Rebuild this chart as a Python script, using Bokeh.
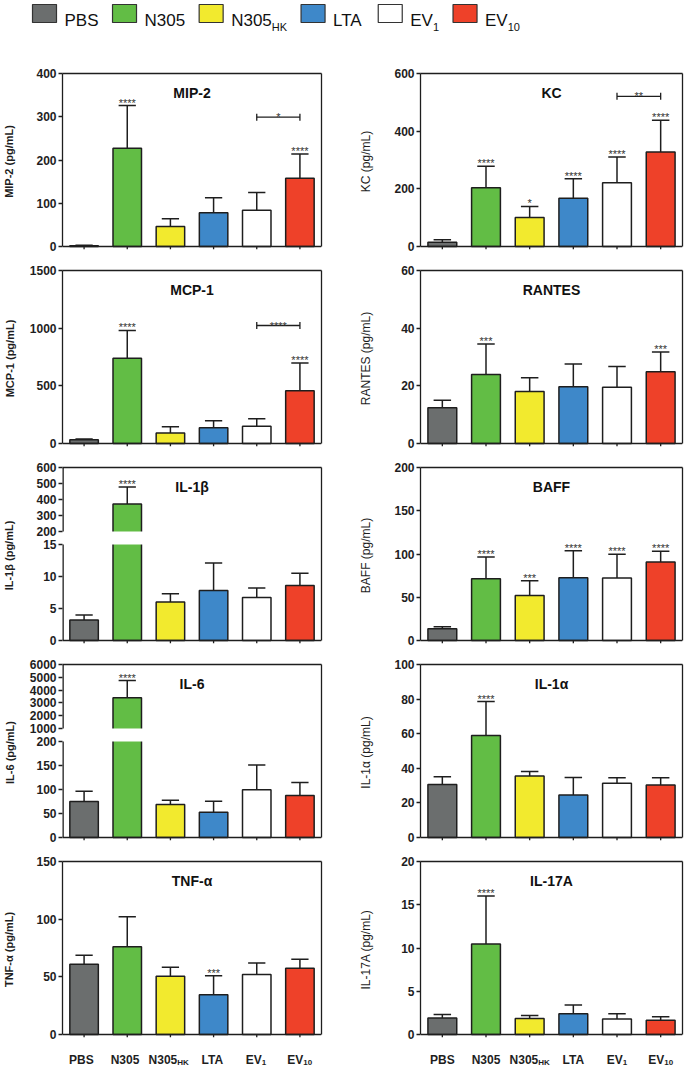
import math
from bokeh.plotting import figure
from bokeh.models import Range1d, LinearAxis, FixedTicker, Grid
from bokeh.layouts import column, row
from bokeh.embed import file_html
from bokeh.resources import INLINE
from bokeh.core.properties import value

FONT = "Liberation Sans"
INK = "#1e1e1e"

# ---------------- data ----------------
categories = ["PBS", "N305", "N305HK", "LTA", "EV1", "EV10"]
cat_main = ["PBS", "N305", "N305", "LTA", "EV", "EV"]
cat_sub = ["", "", "HK", "", "1", "10"]
bar_colors = ["#6b6e6e", "#62bd45", "#f2ea2e", "#3e88c9", "#ffffff", "#ee4129"]

mip2_mean = [2, 227, 46, 78, 84, 158]
mip2_sd = [1, 99, 18, 35, 41, 56]
mip2_stars = ["", "****", "", "", "", "****"]
mip2_ticks = [0, 100, 200, 300, 400]
mip2_bracket = ("EV1", "EV10", 299, "*")

kc_mean = [15, 204, 101, 167, 221, 328]
kc_sd = [8, 74, 38, 68, 89, 110]
kc_stars = ["", "****", "*", "****", "****", "****"]
kc_ticks = [0, 200, 400, 600]
kc_bracket = ("EV1", "EV10", 521, "**")

mcp1_mean = [32, 740, 92, 136, 150, 457]
mcp1_sd = [8, 240, 53, 61, 64, 242]
mcp1_stars = ["", "****", "", "", "", "****"]
mcp1_ticks = [0, 500, 1000, 1500]
mcp1_bracket = ("EV1", "EV10", 1023, "****")

rantes_mean = [12.4, 23.9, 18.0, 19.7, 19.5, 24.9]
rantes_sd = [2.6, 10.6, 4.8, 7.9, 7.2, 6.8]
rantes_stars = ["", "***", "", "", "", "***"]
rantes_ticks = [0, 20, 40, 60]

il1b_mean = [3.2, 372, 6.0, 7.8, 6.7, 8.6]
il1b_sd = [0.8, 106, 1.3, 4.3, 1.5, 1.9]
il1b_stars = ["", "****", "", "", "", ""]
il1b_ticks_low = [0, 5, 10, 15]
il1b_ticks_high = [200, 300, 400, 500, 600]

baff_mean = [13.5, 71.4, 52.1, 72.6, 72.2, 90.7]
baff_sd = [2.3, 25.1, 17.0, 31.3, 27.4, 12.4]
baff_stars = ["", "****", "***", "****", "****", "****"]
baff_ticks = [0, 50, 100, 150, 200]

il6_mean = [74.8, 3396, 68.5, 52.4, 99.3, 87.4]
il6_sd = [21.7, 1354, 9.1, 23.1, 51.7, 27.3]
il6_stars = ["", "****", "", "", "", ""]
il6_ticks_low = [0, 50, 100, 150, 200]
il6_ticks_high = [1000, 2000, 3000, 4000, 5000, 6000]

il1a_mean = [30.7, 58.9, 35.5, 24.5, 31.3, 30.3]
il1a_sd = [4.4, 19.7, 2.7, 10.2, 3.3, 4.3]
il1a_stars = ["", "****", "", "", "", ""]
il1a_ticks = [0, 20, 40, 60, 80, 100]

tnfa_mean = [60.9, 76.1, 50.6, 34.5, 52.0, 57.5]
tnfa_sd = [7.8, 25.9, 7.7, 16.4, 10.1, 7.7]
tnfa_stars = ["", "", "", "***", "", ""]
tnfa_ticks = [0, 50, 100, 150]

il17a_mean = [1.92, 10.46, 1.85, 2.4, 1.8, 1.65]
il17a_sd = [0.38, 5.54, 0.35, 1.0, 0.6, 0.4]
il17a_stars = ["", "****", "", "", "", ""]
il17a_ticks = [0, 5, 10, 15, 20]

left_panels = [
    dict(title="MIP-2", ylabel="MIP-2 (pg/mL)", mean=mip2_mean, sd=mip2_sd, stars=mip2_stars, ticks=mip2_ticks, bracket=mip2_bracket),
    dict(title="MCP-1", ylabel="MCP-1 (pg/mL)", mean=mcp1_mean, sd=mcp1_sd, stars=mcp1_stars, ticks=mcp1_ticks, bracket=mcp1_bracket),
    dict(title="IL-1β", ylabel="IL-1β (pg/mL)", mean=il1b_mean, sd=il1b_sd, stars=il1b_stars, ticks=il1b_ticks_low, ticks_high=il1b_ticks_high),
    dict(title="IL-6", ylabel="IL-6 (pg/mL)", mean=il6_mean, sd=il6_sd, stars=il6_stars, ticks=il6_ticks_low, ticks_high=il6_ticks_high),
    dict(title="TNF-α", ylabel="TNF-α (pg/mL)", mean=tnfa_mean, sd=tnfa_sd, stars=tnfa_stars, ticks=tnfa_ticks),
]
right_panels = [
    dict(title="KC", ylabel="KC (pg/mL)", mean=kc_mean, sd=kc_sd, stars=kc_stars, ticks=kc_ticks, bracket=kc_bracket),
    dict(title="RANTES", ylabel="RANTES (pg/mL)", mean=rantes_mean, sd=rantes_sd, stars=rantes_stars, ticks=rantes_ticks),
    dict(title="BAFF", ylabel="BAFF (pg/mL)", mean=baff_mean, sd=baff_sd, stars=baff_stars, ticks=baff_ticks),
    dict(title="IL-1α", ylabel="IL-1α (pg/mL)", mean=il1a_mean, sd=il1a_sd, stars=il1a_stars, ticks=il1a_ticks),
    dict(title="IL-17A", ylabel="IL-17A (pg/mL)", mean=il17a_mean, sd=il17a_sd, stars=il17a_stars, ticks=il17a_ticks),
]

# ---------------- layout constants ----------------
FIG_W = 343
FW = 262
FH = 173          # data area height (px)
TICK_PX = 3       # x tick length, kept inside the frame below y = 0
BT, BB = 12, 9
LEG_H = 61
STRIP_H = 22
BORDER_LEFT = [59, 77]
PPU = FW / 6.0
SEG_LOW, SEG_GAP, SEG_HIGH = 96, 13, 64
LABEL_DIST = 44

W_REG = {"P": .667, "B": .667, "S": .667, "N": .722, "H": .722, "K": .667, "L": .556,
         "T": .611, "A": .667, "E": .667, "V": .667}
W_BOLD = {"P": .667, "B": .722, "S": .667, "N": .722, "H": .722, "K": .722, "L": .611,
          "T": .611, "A": .722, "E": .667, "V": .667}


def tw(s, size, bold):
    table = W_BOLD if bold else W_REG
    return sum(table.get(c, 0.556) for c in s) * size


def make_transform(cfg):
    if "ticks_high" not in cfg:
        top = cfg["ticks"][-1]
        return (lambda v: v), top, None
    lo_max = cfg["ticks"][-1]
    up_min = cfg["ticks_high"][0]
    up_max = cfg["ticks_high"][-1]

    def f(v):
        if v <= lo_max:
            return v / lo_max * SEG_LOW
        if v >= up_min:
            return SEG_LOW + SEG_GAP + (v - up_min) / (up_max - up_min) * SEG_HIGH
        return SEG_LOW + SEG_GAP * (v - lo_max) / (up_min - lo_max)
    return f, SEG_LOW + SEG_GAP + SEG_HIGH, (lo_max, up_min)


def hide_grids(p):
    for r in list(p.center):
        if isinstance(r, Grid):
            r.visible = False


def line_axis(**kw):
    base = dict(ticker=FixedTicker(ticks=[]), axis_line_color=INK, axis_line_width=1.3,
                major_tick_line_color=None, minor_tick_line_color=None, major_tick_in=0,
                major_tick_out=0, minor_tick_in=0, minor_tick_out=0, major_label_standoff=0)
    base.update(kw)
    return LinearAxis(**base)


def make_panel(cfg, col):
    bl = BORDER_LEFT[col]
    br = FIG_W - bl - FW
    f, ytop, brk = make_transform(cfg)
    ybot = -ytop * TICK_PX / FH
    p = figure(width=FIG_W, height=BT + FH + TICK_PX + BB, x_range=Range1d(-0.5, 5.5),
               y_range=Range1d(ybot, ytop),
               output_backend="svg", toolbar_location=None, x_axis_location=None, y_axis_location=None,
               min_border_left=bl, min_border_right=br, min_border_top=BT, min_border_bottom=BB)
    p.outline_line_color = None
    hide_grids(p)

    xs = list(range(len(categories)))
    mean = cfg["mean"]
    sd = cfg["sd"]
    tops = [f(m) for m in mean]
    errs = [f(m + s) for m, s in zip(mean, sd)]

    # error bars (upper only)
    p.segment(x0=xs, y0=tops, x1=xs, y1=errs, line_color=INK, line_width=1.5)
    p.segment(x0=[x - 0.2 for x in xs], y0=errs, x1=[x + 0.2 for x in xs], y1=errs,
              line_color=INK, line_width=1.5)
    # bars
    p.vbar(x=xs, top=tops, bottom=0, width=0.66, fill_color=bar_colors, line_color=INK, line_width=1.5)
    if brk is not None:
        p.quad(left=[-0.5], right=[5.5], bottom=[f(brk[0])], top=[f(brk[1])],
               fill_color="white", line_color=None)
        # broken left spine
        p.segment(x0=[-0.5, -0.5], y0=[0, f(brk[1])], x1=[-0.5, -0.5], y1=[f(brk[0]), ytop],
                  line_color=INK, line_width=2.6)

    # x axis line and small category ticks
    p.segment(x0=[-0.5], y0=[0], x1=[5.5], y1=[0], line_color=INK, line_width=1.3)
    p.segment(x0=xs, y0=[0] * len(xs), x1=xs, y1=[ybot] * len(xs), line_color=INK, line_width=1.3)

    # significance stars
    si = [i for i in xs if cfg["stars"][i]]
    if si:
        p.text(x=si, y=[errs[i] for i in si], text=[cfg["stars"][i] for i in si],
               text_align="center", text_baseline="alphabetic", y_offset=-3,
               text_font=value(FONT), text_font_size="11px", text_color="#333333")
    # bracket
    if cfg.get("bracket"):
        a, b, yv, lab = cfg["bracket"]
        xa, xb = categories.index(a), categories.index(b)
        yb = f(yv)
        p.segment(x0=[xa], y0=[yb], x1=[xb], y1=[yb], line_color=INK, line_width=1.3)
        p.scatter(x=[xa, xb], y=[yb, yb], marker="dash", angle=math.pi / 2, size=7,
                  line_color=INK, line_width=1.3)
        p.text(x=[(xa + xb) / 2], y=[yb], text=[lab], text_align="center", text_baseline="alphabetic",
               y_offset=0, text_font=value(FONT), text_font_size="11px", text_color="#333333")
    # panel title
    p.text(x=[(len(xs) - 1) / 2], y=[0.89 * ytop], text=[cfg["title"]], text_align="center",
           text_baseline="middle", text_font=value(FONT), text_font_size="14px",
           text_font_style="bold", text_color="#111111")

    # y axis with ticks and label
    all_ticks = cfg["ticks"] + cfg.get("ticks_high", [])
    pos = [float(f(t)) for t in all_ticks]
    ov = {float(f(t)): str(t) for t in all_ticks}
    maxw = max(tw(str(t), 12, True) for t in all_ticks)
    yax = LinearAxis(ticker=FixedTicker(ticks=pos), major_label_overrides=ov, bounds=(0, ytop),
                     axis_label=cfg["ylabel"], axis_label_standoff=int(round(LABEL_DIST - 6 - maxw)),
                     axis_line_color=(None if brk is not None else INK), axis_line_width=1.3,
                     major_tick_line_color=INK, major_tick_line_width=1.3, major_tick_out=4, major_tick_in=0,
                     minor_tick_line_color=None, minor_tick_out=0, minor_tick_in=0,
                     major_label_standoff=2, major_label_text_font=FONT, major_label_text_font_size="12px",
                     major_label_text_font_style="bold", major_label_text_color=INK,
                     axis_label_text_font=FONT,
                     axis_label_text_font_size="11px" if col == 0 else "12px",
                     axis_label_text_font_style="bold" if col == 0 else "normal",
                     axis_label_text_color=INK)
    p.add_layout(yax, "left")

    # frame: top and right
    p.add_layout(line_axis(), "above")
    p.add_layout(line_axis(bounds=(0, ytop)), "right")
    return p


def make_strip(col):
    bl = BORDER_LEFT[col]
    br = FIG_W - bl - FW
    p = figure(width=FIG_W, height=STRIP_H, x_range=Range1d(-0.5, 5.5), y_range=Range1d(0, STRIP_H),
               output_backend="svg", toolbar_location=None, x_axis_location=None, y_axis_location=None,
               min_border_left=bl, min_border_right=br, min_border_top=0, min_border_bottom=0)
    p.outline_line_color = None
    hide_grids(p)
    mx, sx, st = [], [], []
    for i in range(len(categories)):
        wm = tw(cat_main[i], 12, True)
        ws = tw(cat_sub[i], 8, True)
        tot = wm + ws
        mx.append(i + (-tot / 2 + wm / 2) / PPU)
        if cat_sub[i]:
            sx.append(i + (tot / 2 - ws / 2) / PPU)
            st.append(cat_sub[i])
    p.text(x=mx, y=[STRIP_H - 13] * len(mx), text=cat_main, text_align="center", text_baseline="alphabetic",
           text_font=value(FONT), text_font_size="12px", text_font_style="bold", text_color=INK)
    p.text(x=sx, y=[STRIP_H - 16] * len(sx), text=st, text_align="center", text_baseline="alphabetic",
           text_font=value(FONT), text_font_size="8px", text_font_style="bold", text_color=INK)
    return p


def make_legend():
    LW = 2 * FIG_W
    p = figure(width=LW, height=LEG_H, x_range=Range1d(0, LW), y_range=Range1d(0, LEG_H),
               output_backend="svg", toolbar_location=None, x_axis_location=None, y_axis_location=None,
               min_border=0)
    p.outline_line_color = None
    hide_grids(p)
    sw_w, sw_h = 24, 18
    yc = LEG_H - 13
    x = 32
    sx, tx, ux, ut = [], [], [], []
    for i in range(len(categories)):
        sx.append(x + sw_w / 2)
        tx.append(x + sw_w + 8)
        wm = tw(cat_main[i], 17, False)
        ws = tw(cat_sub[i], 11, False)
        if cat_sub[i]:
            ux.append(tx[-1] + wm)
            ut.append(cat_sub[i])
        x = tx[-1] + wm + ws + 14
    p.rect(x=sx, y=[yc] * len(sx), width=sw_w, height=sw_h, fill_color=bar_colors, line_color="#333333",
           line_width=1.2)
    p.text(x=tx, y=[yc - 7] * len(tx), text=cat_main, text_font=value(FONT), text_font_size="17px",
           text_baseline="alphabetic", text_align="left", text_color="#111111")
    p.text(x=ux, y=[yc - 13] * len(ux), text=ut, text_font=value(FONT), text_font_size="11px",
           text_baseline="alphabetic", text_align="left", text_color="#111111")
    return p


rows = [make_legend()]
for k in range(len(left_panels)):
    rows.append(row(make_panel(left_panels[k], 0), make_panel(right_panels[k], 1)))
rows.append(row(make_strip(0), make_strip(1)))
layout = column(*rows)

open("out.html", "w").write(file_html(layout, INLINE))
